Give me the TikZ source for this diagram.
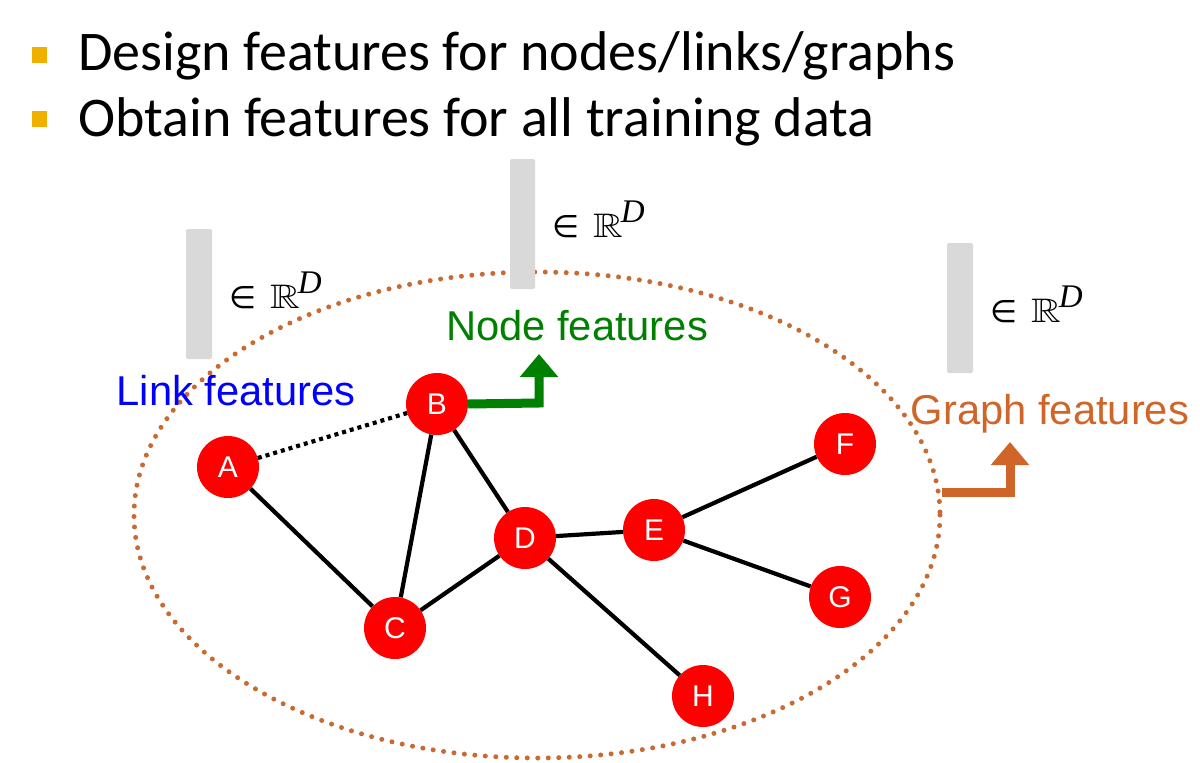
\documentclass[tikz,border=0pt]{standalone}
\usepackage{amssymb}
\usepackage{graphicx}
\usepackage{fontspec}
\setmainfont{Carlito}
\newfontfamily\arialfont{Liberation Sans}
\newfontfamily\dejavu{DejaVu Sans}
\newfontfamily\serifit{Liberation Serif}
\usetikzlibrary{arrows.meta}
\definecolor{bulletc}{HTML}{F0B000}
\definecolor{barc}{HTML}{D9D9D9}
\definecolor{nodered}{HTML}{FF0000}
\definecolor{greenc}{HTML}{008000}
\definecolor{orangec}{HTML}{D0652A}
\definecolor{ellc}{HTML}{C86A32}
\definecolor{bluec}{HTML}{0000FF}
\newcommand{\inRD}{{\dejavu\fontsize{31}{31}\selectfont ∈}\hspace{14pt}\scalebox{4.1}[3.4]{$\mathbb{R}$}\hspace{-2pt}\raisebox{15pt}{\serifit\itshape\fontsize{33}{33}\selectfont D}}
\tikzset{
  gnode/.style={circle,fill=nodered,minimum size=62pt,inner sep=0pt,text=white,font=\arialfont\fontsize{30}{30}\selectfont},
  edge/.style={line width=4.2pt,black},
  bar/.style={fill=barc,rounded corners=2pt},
  bullet/.style={fill=bulletc},
  btext/.style={anchor=base west,font=\fontsize{56}{60}\selectfont,inner sep=0pt},
  flabel/.style={font=\arialfont\fontsize{41.7}{42}\selectfont,inner sep=0pt},
  rlabel/.style={anchor=base west,inner sep=0pt},
  bigarrow/.style={line width=9pt,line join=miter,-{Triangle[width=37pt,length=23pt]}}
}
\begin{document}
\begin{tikzpicture}[x=1pt,y=-1pt]
\useasboundingbox (0,0) rectangle (1200,763);
% bullets
\fill[bullet] (32,47) rectangle (47,63);
\fill[bullet] (32,111) rectangle (47,127);
\node[btext] (t1) at (78,70) {Design features for nodes/links/graphs};
\node[btext] (t2) at (78,136) {Obtain features for all training data};
% ellipse
\draw[ellc,line width=5pt,line cap=round,dash pattern=on 0pt off 10.5pt] (537,515) ellipse [x radius=403,y radius=243];
% bars
\fill[bar] (186,229) rectangle (212,359);
\fill[bar] (510,159) rectangle (535,289);
\fill[bar] (947,243) rectangle (973,373);
\node[rlabel] (r1) at (229,308) {\inRD};
\node[rlabel] (r2) at (552,237) {\inRD};
\node[rlabel] (r3) at (990,322) {\inRD};
% labels
\node[flabel,text=bluec] (l1) at (236,391) {Link features};
\node[flabel,text=greenc] (l2) at (577,326) {Node features};
\node[flabel,text=orangec] (l3) at (1050,414) {Graph features};
% nodes
\node[gnode] (A) at (228,467) {A};
\node[gnode] (B) at (437,404) {B};
\node[gnode] (C) at (395,628) {C};
\node[gnode] (D) at (525,538) {D};
\node[gnode] (E) at (654,530) {E};
\node[gnode] (F) at (845,444) {F};
\node[gnode] (G) at (840,597) {G};
\node[gnode] (H) at (703,696) {H};
% edges
\draw[edge,dash pattern=on 4pt off 4pt] (A) -- (B);
\draw[edge] (A) -- (C);
\draw[edge] (B) -- (C);
\draw[edge] (B) -- (D);
\draw[edge] (C) -- (D);
\draw[edge] (D) -- (E);
\draw[edge] (E) -- (F);
\draw[edge] (E) -- (G);
\draw[edge] (D) -- (H);
% arrows
\coordinate (gtip) at (539,354);
\draw[bigarrow,greenc] (B.east) -- (539,403) -- (gtip);
\coordinate (ostart) at (942,492);
\coordinate (otip) at (1010,442);
\draw[bigarrow,orangec] (ostart) -- (1010,492) -- (otip);
\end{tikzpicture}
\end{document}
